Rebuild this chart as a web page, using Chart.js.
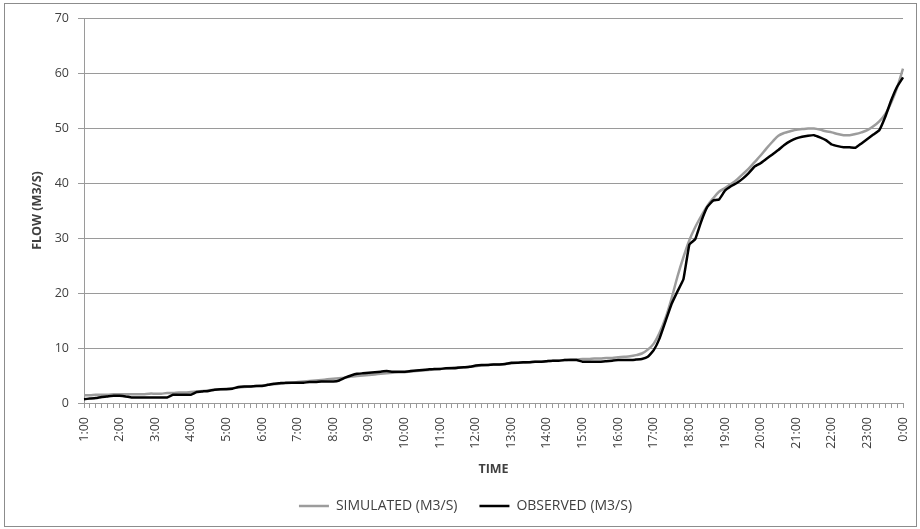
<!DOCTYPE html>
<html>
<head>
<meta charset="utf-8">
<script src="https://cdn.jsdelivr.net/npm/chart.js@4.4.0/dist/chart.umd.min.js"></script>
<style>
    html, body { margin: 0; padding: 0; background: #fff; }
    #wrap { position: relative; width: 920px; height: 529px; }
</style>
</head>
<body>
<div id="wrap"><canvas id="flow-chart" width="920" height="529"></canvas></div>
<script>
// hourly tick labels, data is every 10 minutes between them
const hourLabels = ['1:00', '2:00', '3:00', '4:00', '5:00', '6:00', '7:00', '8:00', '9:00', '10:00', '11:00', '12:00',
    '13:00', '14:00', '15:00', '16:00', '17:00', '18:00', '19:00', '20:00', '21:00', '22:00', '23:00', '0:00'];
const minuteSteps = ['00', '10', '20', '30', '40', '50'];

const simulated = [
    1.4, 1.4, 1.5, 1.5, 1.5, 1.6,
    1.6, 1.6, 1.6, 1.6, 1.6, 1.7,
    1.7, 1.7, 1.8, 1.8, 1.9, 1.9,
    2.0, 2.1, 2.2, 2.3, 2.4, 2.5,
    2.6, 2.7, 2.8, 2.9, 3.0, 3.1,
    3.2, 3.3, 3.4, 3.5, 3.6, 3.7,
    3.8, 3.9, 4.0, 4.1, 4.2, 4.3,
    4.4, 4.5, 4.6, 4.8, 4.9, 5.0,
    5.1, 5.2, 5.3, 5.4, 5.5, 5.6,
    5.6, 5.7, 5.8, 5.9, 6.0, 6.1,
    6.2, 6.3, 6.4, 6.5, 6.5, 6.6,
    6.7, 6.8, 6.9, 7.0, 7.0, 7.1,
    7.2, 7.3, 7.3, 7.4, 7.5, 7.5,
    7.6, 7.7, 7.7, 7.8, 7.9, 7.9,
    8.0, 8.0, 8.1, 8.1, 8.2, 8.2,
    8.3, 8.4, 8.5, 8.7, 9.0, 9.7,
    10.8, 12.8, 15.5, 19.0, 23.0, 26.5,
    29.6, 32.0, 34.0, 35.8, 37.2, 38.4,
    39.1, 39.8, 40.6, 41.6, 42.6, 43.8,
    45.0, 46.3, 47.5, 48.6, 49.1, 49.4,
    49.7, 49.8, 49.9, 49.9, 49.7, 49.4,
    49.2, 48.9, 48.7, 48.7, 48.9, 49.2,
    49.6, 50.3, 51.2, 52.5, 54.6, 57.3,
    60.8
];

const observed = [
    0.7, 0.8, 0.9, 1.1, 1.2, 1.3,
    1.3, 1.2, 1.0, 1.0, 1.0, 1.0,
    1.0, 1.0, 1.0, 1.5, 1.5, 1.5,
    1.5, 2.0, 2.1, 2.2, 2.4, 2.5,
    2.5, 2.6, 2.9, 3.0, 3.0, 3.1,
    3.1, 3.3, 3.5, 3.6, 3.7, 3.7,
    3.7, 3.7, 3.8, 3.8, 3.9, 3.9,
    3.9, 4.1, 4.6, 5.0, 5.3, 5.4,
    5.5, 5.6, 5.7, 5.8, 5.7, 5.7,
    5.7, 5.8, 5.9, 6.0, 6.1, 6.2,
    6.2, 6.3, 6.3, 6.4, 6.5, 6.6,
    6.8, 6.9, 6.9, 7.0, 7.0, 7.1,
    7.3, 7.3, 7.4, 7.4, 7.5, 7.5,
    7.6, 7.7, 7.7, 7.8, 7.8, 7.8,
    7.5, 7.5, 7.5, 7.5, 7.6, 7.7,
    7.8, 7.8, 7.8, 7.9, 8.0, 8.4,
    9.6, 11.8, 14.9, 18.0, 20.3, 22.5,
    28.8, 29.8, 33.0, 35.6, 36.8, 37.0,
    38.6, 39.4, 40.0, 40.8, 41.8, 43.0,
    43.6, 44.4, 45.2, 46.0, 46.9, 47.6,
    48.1, 48.4, 48.6, 48.7, 48.3, 47.8,
    47.0, 46.7, 46.5, 46.5, 46.4, 47.2,
    48.0, 48.8, 49.6, 52.0, 55.0, 57.5,
    59.2
];

// 1:00, 1:10, ... 23:50, 0:00
const times = [];
hourLabels.forEach((h, i) => {
    if (i === hourLabels.length - 1) { times.push(h); return; }
    const hh = h.split(':')[0];
    minuteSteps.forEach(m => times.push(hh + ':' + m));
});

const fontFamily = "'Open Sans', sans-serif";
const textColor = '#404040';
const gridColor = '#9a9a9a';

// thin frame around the whole chart
const framePlugin = {
    id: 'frame',
    afterDraw(chart) {
        const ctx = chart.ctx;
        ctx.save();
        ctx.strokeStyle = '#8c8c8c';
        ctx.lineWidth = 1;
        ctx.strokeRect(4.5, 3.5, 912, 523);
        ctx.restore();
    }
};

const ctx = document.getElementById('flow-chart').getContext('2d');
new Chart(ctx, {
    type: 'line',
    data: {
        labels: times,
        datasets: [{
            label: 'SIMULATED (M3/S)',
            data: simulated,
            borderColor: '#9c9c9c',
            backgroundColor: '#9c9c9c',
            borderWidth: 2.5,
            pointRadius: 0,
            tension: 0.3,
            order: 1
        }, {
            label: 'OBSERVED (M3/S)',
            data: observed,
            borderColor: '#000000',
            backgroundColor: '#000000',
            borderWidth: 2.5,
            pointRadius: 0,
            tension: 0.1,
            order: 0
        }]
    },
    options: {
        responsive: false,
        animation: false,
        layout: { padding: { left: 28, right: 17, top: 18, bottom: 6 } },
        scales: {
            x: {
                offset: false,
                grid: { drawOnChartArea: false, tickLength: 5, color: gridColor, offset: false },
                border: { color: gridColor },
                ticks: {
                    autoSkip: false,
                    minRotation: 90,
                    maxRotation: 90,
                    padding: 9,
                    color: textColor,
                    font: { family: fontFamily, size: 12.5 },
                    callback: (v, i) => (i % 6 === 0 ? times[i] : '')
                },
                title: {
                    display: true,
                    text: 'TIME',
                    color: textColor,
                    font: { family: fontFamily, size: 12.5, weight: 'bold' },
                    padding: { top: 0, bottom: 0 }
                },
                afterFit(scale) {
                    scale.height = 74;
                    // the rotated end labels are narrow, no extra side room needed
                    scale.paddingLeft = 0;
                    scale.paddingRight = 0;
                }
            },
            y: {
                min: 0,
                max: 70,
                grid: { color: gridColor, tickLength: 6 },
                border: { color: gridColor },
                ticks: {
                    stepSize: 10,
                    padding: 9,
                    color: textColor,
                    font: { family: fontFamily, size: 12.5 }
                },
                title: {
                    display: true,
                    text: 'FLOW (M3/S)',
                    color: textColor,
                    font: { family: fontFamily, size: 12.5, weight: 'bold' },
                    padding: { top: 2, bottom: 0 }
                },
                afterFit(scale) { scale.width = 56; }
            }
        },
        plugins: {
            legend: {
                position: 'bottom',
                labels: {
                    usePointStyle: true,
                    pointStyle: 'line',
                    pointStyleWidth: 30,
                    padding: 22,
                    color: textColor,
                    font: { family: fontFamily, size: 14 },
                    sort: (a, b) => a.datasetIndex - b.datasetIndex
                }
            },
            tooltip: { enabled: false }
        }
    },
    plugins: [framePlugin]
});
</script>
</body>
</html>
